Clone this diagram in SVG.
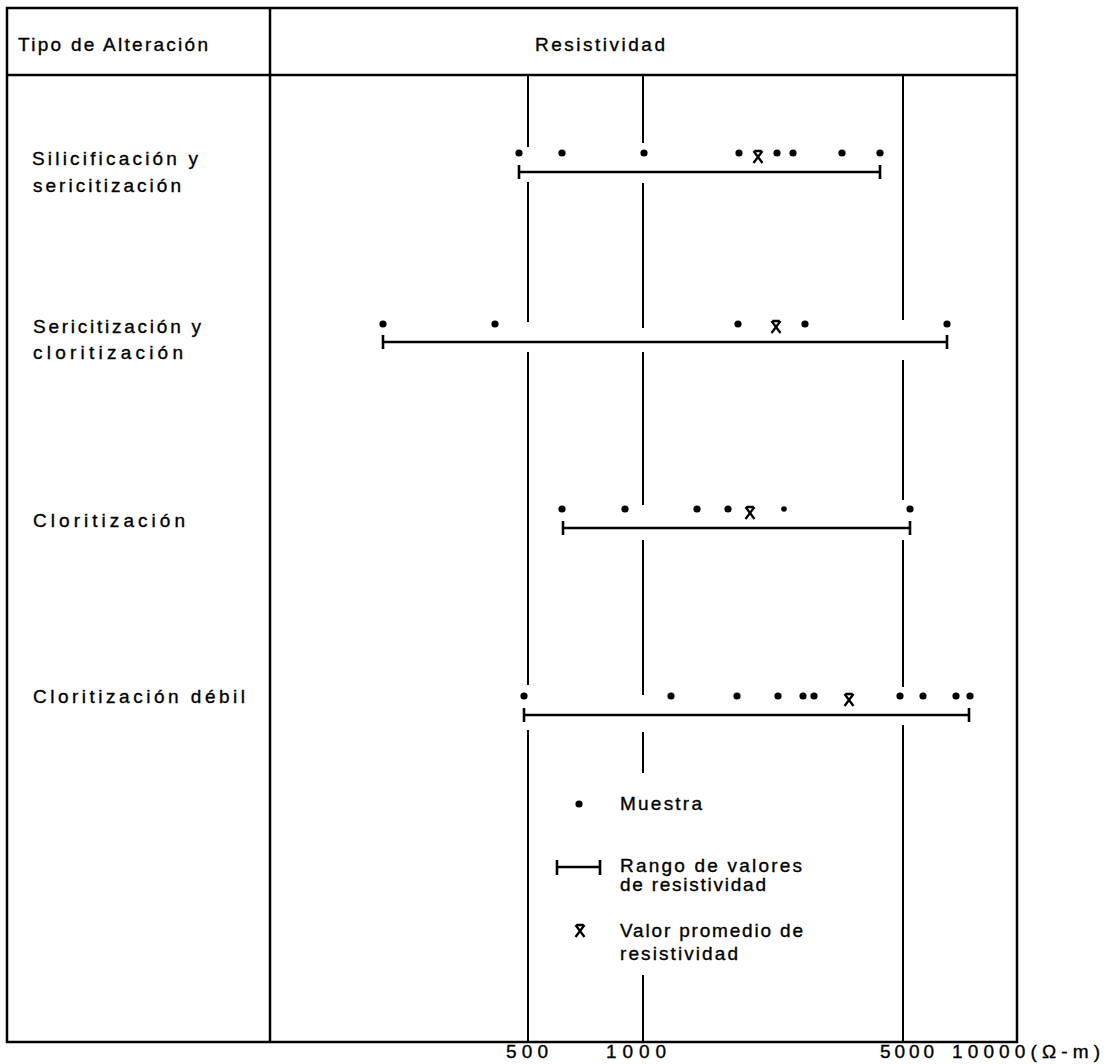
<svg xmlns="http://www.w3.org/2000/svg" width="1106" height="1064" viewBox="0 0 1106 1064">
<style>
.t{font-family:"Liberation Sans",Arial,sans-serif;font-size:19px;fill:#000;stroke:#000;stroke-width:0.35}
.frame{stroke:#000;stroke-width:2.5;fill:none}
.grid{stroke:#000;stroke-width:2;fill:none}
.bar{stroke:#000;stroke-width:2.6;fill:none}
.dot{fill:#000}
.avg{stroke:#000;stroke-width:2.3;fill:none}
</style>
<defs>
<circle id="d" r="3.6" class="dot"/>
<path id="x" class="avg" d="M-3.5,-6 H3.5 M-4.5,-6 L4.5,6 M4.5,-6 L-4.5,6"/>
</defs>
<rect width="1106" height="1064" fill="#fff"/>

<g id="frame">
<rect class="frame" x="7" y="8" width="1010" height="1034"/>
<line class="frame" x1="7" y1="75" x2="1017" y2="75"/>
<line class="frame" x1="270" y1="8" x2="270" y2="1042"/>
</g>

<g id="gridlines">
<path class="grid" d="M528,75 V147 M528,182 V322 M528,352 V685 M528,730 V1042"/>
<path class="grid" d="M643,75 V143 M643,183 V328 M643,352 V505 M643,540 V695 M643,732 V773 M643,975 V1042"/>
<path class="grid" d="M903,75 V320 M903,360 V500 M903,540 V687 M903,725 V1042"/>
</g>

<g id="headers">
<text class="t" x="18" y="51" textLength="190" lengthAdjust="spacing">Tipo de Alteración</text>
<text class="t" x="535" y="51" textLength="130" lengthAdjust="spacing">Resistividad</text>
</g>

<g id="row-silicificacion">
<text class="t" x="32" y="165" textLength="166" lengthAdjust="spacing">Silicificación y</text>
<text class="t" x="33" y="192" textLength="148" lengthAdjust="spacing">sericitización</text>
<path class="bar" d="M519,172 H880 M519,165 V179 M880,165 V179"/>
<use href="#d" x="519" y="153"/><use href="#d" x="562" y="153"/><use href="#d" x="644" y="153"/>
<use href="#d" x="739" y="153"/><use href="#d" x="777" y="153"/><use href="#d" x="793" y="153"/>
<use href="#d" x="842" y="153"/><use href="#d" x="880" y="153"/>
<use href="#x" x="758" y="157"/>
</g>

<g id="row-sericitizacion">
<text class="t" x="33" y="333" textLength="168" lengthAdjust="spacing">Sericitización y</text>
<text class="t" x="33" y="359" textLength="150" lengthAdjust="spacing">cloritización</text>
<path class="bar" d="M383,342 H947 M383,335 V349 M947,335 V349"/>
<use href="#d" x="383" y="324"/><use href="#d" x="495" y="324"/><use href="#d" x="738" y="324"/>
<use href="#d" x="805" y="324"/><use href="#d" x="947" y="324"/>
<use href="#x" x="776" y="327"/>
</g>

<g id="row-cloritizacion">
<text class="t" x="33" y="527" textLength="152" lengthAdjust="spacing">Cloritización</text>
<path class="bar" d="M563,528 H910 M563,521 V535 M910,521 V535"/>
<use href="#d" x="562" y="509"/><use href="#d" x="625" y="509"/><use href="#d" x="697" y="509"/>
<use href="#d" x="728" y="509"/><circle cx="784" cy="509" r="2.8" class="dot"/><use href="#d" x="910" y="509"/>
<use href="#x" x="750" y="513"/>
</g>

<g id="row-cloritizacion-debil">
<text class="t" x="33" y="703" textLength="212" lengthAdjust="spacing">Cloritización débil</text>
<path class="bar" d="M524,715 H969 M524,708 V722 M969,708 V722"/>
<use href="#d" x="524" y="696"/><use href="#d" x="671" y="696"/><use href="#d" x="737" y="696"/>
<use href="#d" x="778" y="696"/><use href="#d" x="803" y="696"/><use href="#d" x="814" y="696"/>
<use href="#d" x="900" y="696"/><use href="#d" x="923" y="696"/><use href="#d" x="956" y="696"/>
<use href="#d" x="970" y="696"/>
<use href="#x" x="849" y="700"/>
</g>

<g id="legend">
<use href="#d" x="579" y="804"/>
<text class="t" x="620" y="810" textLength="82" lengthAdjust="spacing">Muestra</text>
<path class="bar" d="M557,867 H600 M557,860 V875 M600,860 V875"/>
<text class="t" x="620" y="872" textLength="182" lengthAdjust="spacing">Rango de valores</text>
<text class="t" x="620" y="891" textLength="146" lengthAdjust="spacing">de resistividad</text>
<use href="#x" x="580" y="931"/>
<text class="t" x="620" y="937" textLength="183" lengthAdjust="spacing">Valor promedio de</text>
<text class="t" x="620" y="960" textLength="118" lengthAdjust="spacing">resistividad</text>
</g>

<g id="axis-labels">
<text class="t" x="506" y="1058" textLength="42" lengthAdjust="spacing">500</text>
<text class="t" x="606" y="1058" textLength="60" lengthAdjust="spacing">1000</text>
<text class="t" x="880" y="1058" textLength="54" lengthAdjust="spacing">5000</text>
<text class="t" x="952" y="1058" textLength="148" lengthAdjust="spacing">10000(Ω-m)</text>
</g>
</svg>
